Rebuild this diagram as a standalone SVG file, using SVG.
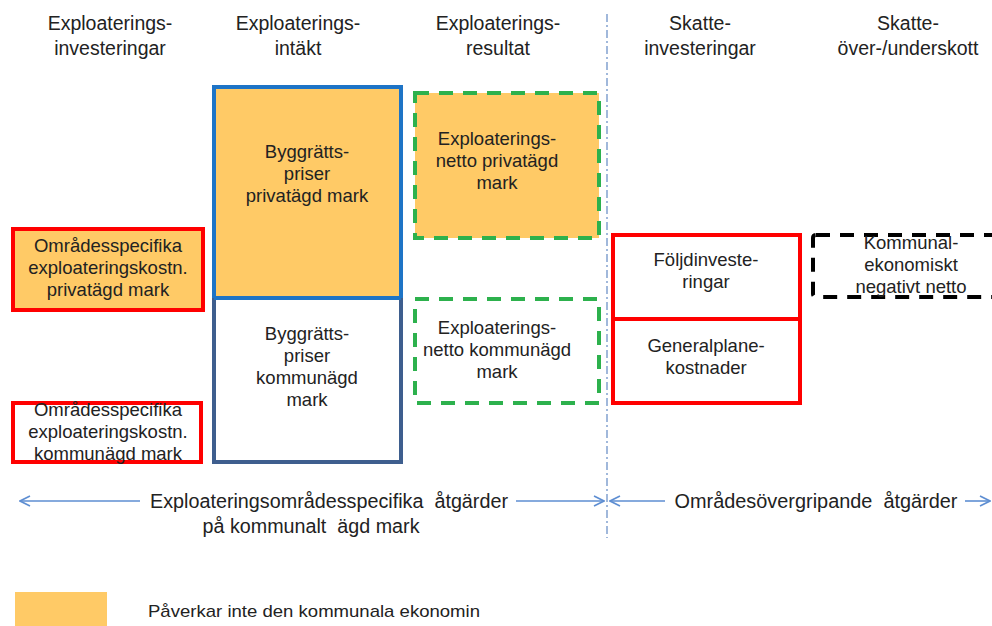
<svg xmlns="http://www.w3.org/2000/svg" width="992" height="626" viewBox="0 0 992 626">
<defs>
<style>
text{font-family:"Liberation Sans",Arial,sans-serif;fill:#222;text-anchor:middle}
.h{font-size:19.5px}
.b{font-size:18.5px}
.pre{white-space:pre}
.red{fill:none;stroke:#FF0000;stroke-width:4}
.grn{stroke:#2DB14D;stroke-width:4;stroke-dasharray:14 10}
.blk{fill:none;stroke:#000;stroke-width:4;stroke-dasharray:14 10}
.org{fill:#FFCA66}
.arr{stroke:#5E8ED2;stroke-width:1.6;fill:none}
</style>
<marker id="ah" viewBox="0 0 12 12" refX="11" refY="6" markerWidth="12" markerHeight="12" markerUnits="userSpaceOnUse" orient="auto-start-reverse">
<path d="M1,1 L11,6 L1,11" fill="none" stroke="#5E8ED2" stroke-width="1.6"/>
</marker>
</defs>
<rect width="992" height="626" fill="#fff"/>

<g id="headers">
<text class="h" x="110" y="30">Exploaterings-</text>
<text class="h" x="110" y="55">investeringar</text>
<text class="h" x="298" y="30">Exploaterings-</text>
<text class="h" x="298" y="55">intäkt</text>
<text class="h" x="498" y="30">Exploaterings-</text>
<text class="h" x="498" y="55">resultat</text>
<text class="h" x="700" y="30">Skatte-</text>
<text class="h" x="700" y="55">investeringar</text>
<text class="h" x="908" y="30">Skatte-</text>
<text class="h" x="908" y="55">över-/underskott</text>
</g>

<g id="connectors">
<line x1="607" y1="14" x2="607" y2="538" stroke="#6F93C8" stroke-width="1.3" stroke-dasharray="8 3 2 3"/>
<line class="arr" x1="140" y1="501" x2="20" y2="501" marker-end="url(#ah)"/>
<line class="arr" x1="516" y1="501" x2="604" y2="501" marker-end="url(#ah)"/>
<line class="arr" x1="665" y1="501" x2="610" y2="501" marker-end="url(#ah)"/>
<line class="arr" x1="965" y1="501" x2="990" y2="501" marker-end="url(#ah)"/>
</g>

<g id="byggratt-privat">
<rect x="214" y="87" width="187" height="211" class="org" stroke="#1E74C6" stroke-width="4"/>
<text class="b" x="307" y="158">Byggrätts-</text>
<text class="b" x="307" y="180">priser</text>
<text class="b" x="307" y="202">privatägd mark</text>
</g>

<g id="byggratt-kommun">
<path d="M214,298 V462 H401 V298" fill="#fff" stroke="#3E5E8E" stroke-width="4"/>
<line x1="214" y1="298" x2="401" y2="298" stroke="#1E74C6" stroke-width="4"/>
<text class="b" x="307" y="340">Byggrätts-</text>
<text class="b" x="307" y="362">priser</text>
<text class="b" x="307" y="384">kommunägd</text>
<text class="b" x="307" y="406">mark</text>
</g>

<g id="omr-privat">
<rect x="13" y="229" width="190" height="81" class="org" stroke="#FF0000" stroke-width="4"/>
<text class="b" x="108" y="252">Områdesspecifika</text>
<text class="b" x="108" y="274">exploateringskostn.</text>
<text class="b" x="108" y="296">privatägd mark</text>
</g>

<g id="omr-kommun">
<rect x="13" y="403" width="188" height="59" class="red"/>
<text class="b" x="108" y="416">Områdesspecifika</text>
<text class="b" x="108" y="438">exploateringskostn.</text>
<text class="b" x="108" y="460">kommunägd mark</text>
</g>

<g id="netto-privat">
<rect x="415" y="93" width="184" height="145" class="org grn"/>
<text class="b" x="497" y="145">Exploaterings-</text>
<text class="b" x="497" y="167">netto privatägd</text>
<text class="b" x="497" y="189">mark</text>
</g>

<g id="netto-kommun">
<rect x="415" y="299" width="184" height="104" fill="none" class="grn"/>
<text class="b" x="497" y="334">Exploaterings-</text>
<text class="b" x="497" y="356">netto kommunägd</text>
<text class="b" x="497" y="378">mark</text>
</g>

<g id="foljd">
<rect x="613" y="235" width="187" height="84" class="red"/>
<text class="b" x="706" y="266">Följdinveste-</text>
<text class="b" x="706" y="288">ringar</text>
</g>

<g id="generalplan">
<rect x="613" y="319" width="187" height="84" class="red"/>
<text class="b" x="706" y="352">Generalplane-</text>
<text class="b" x="706" y="374">kostnader</text>
</g>

<g id="kommunal-netto">
<rect x="813" y="235" width="200" height="62" rx="3" class="blk"/>
<text class="b" x="911" y="249">Kommunal-</text>
<text class="b" x="911" y="271">ekonomiskt</text>
<text class="b" x="911" y="293">negativt netto</text>
</g>

<g id="labels">
<text class="pre" x="329" y="508" font-size="19.5" textLength="358" lengthAdjust="spacingAndGlyphs">Exploateringsområdesspecifika  åtgärder</text>
<text class="pre" x="311" y="533" font-size="19.5" textLength="217" lengthAdjust="spacingAndGlyphs">på kommunalt  ägd mark</text>
<text class="pre" x="816" y="508" font-size="19.5" textLength="283" lengthAdjust="spacingAndGlyphs">Områdesövergripande  åtgärder</text>
</g>

<g id="legend">
<rect x="15" y="592" width="92" height="34" fill="#FFCA66"/>
<text x="148" y="617" font-size="17" style="text-anchor:start" textLength="332" lengthAdjust="spacingAndGlyphs">Påverkar inte den kommunala ekonomin</text>
</g>
</svg>
